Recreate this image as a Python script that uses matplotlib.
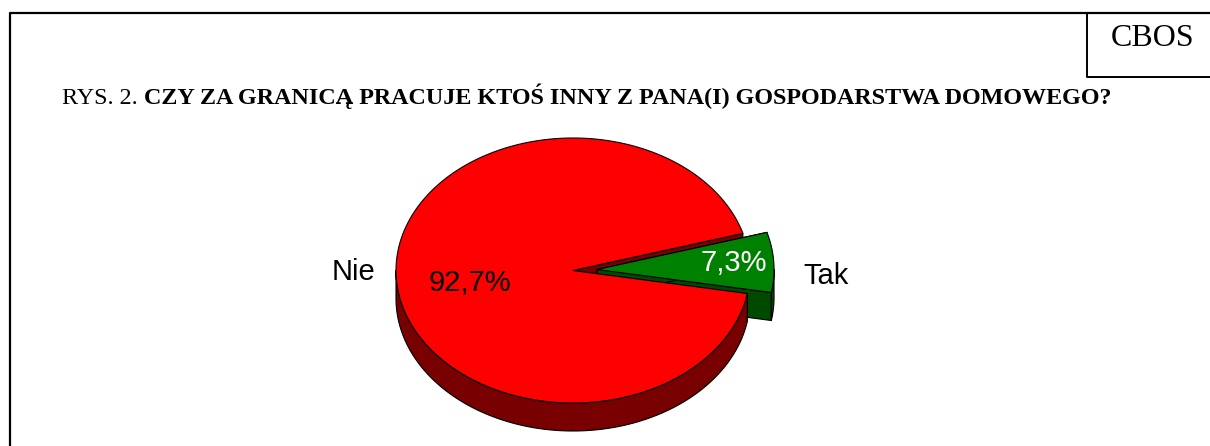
"""
CBOS figure 2: 3D-style pie, who else works abroad.
"""

import numpy as np
import matplotlib.pyplot as plt
from matplotlib.patches import Polygon

# data
labels = ['Tak', 'Nie']
values = [7.3, 92.7]
value_labels = ['7,3%', '92,7%']
top_colors = ['#008000', '#ff0000']
side_colors = ['#004a00', '#780000']
pct_colors = ['white', 'black']

title_plain = 'RYS. 2. '
title_bold = 'CZY ZA GRANICĄ PRACUJE KTOŚ INNY Z PANA(I) GOSPODARSTWA DOMOWEGO?'

# pie geometry (pixels)
cx, cy = 573, 270.5
rx, ry = 177, 132.5
depth = 28
start = -10.0
explode = [0.136, 0.0]


def pt(x0, y0, t):
    t = np.radians(t)
    return np.column_stack([x0 + rx * np.cos(t), y0 - ry * np.sin(t)])


def front_range(a, b):
    # part of [a, b] that lies on the near half (180..360 mod 360)
    out = []
    for k in (-360, 0, 360):
        lo, hi = max(a, 180 + k), min(b, 360 + k)
        if hi > lo:
            out.append((lo, hi))
    return out


fig = plt.figure(figsize=(12.1, 4.46), dpi=100)
ax = fig.add_axes([0, 0, 1, 1])
ax.set_xlim(0, 1210)
ax.set_ylim(446, 0)
ax.axis('off')

fracs = np.array(values) / sum(values) * 360
angles = start + np.concatenate([[0], np.cumsum(fracs)])
kw = dict(edgecolor='black', linewidth=0.8, joinstyle='round')
slices = []
for i in range(len(values)):
    a, b = angles[i], angles[i + 1]
    mid = np.radians((a + b) / 2)
    x0 = cx + explode[i] * rx * np.cos(mid)
    y0 = cy - explode[i] * ry * np.sin(mid)
    slices.append((a, b, x0, y0))


def draw_faces(i):
    a, b, x0, y0 = slices[i]
    for t in (a, b):
        r = pt(x0, y0, t)[0]
        face = [(x0, y0), tuple(r), (r[0], r[1] + depth), (x0, y0 + depth)]
        ax.add_patch(Polygon(face, closed=True, facecolor=side_colors[i], **kw))


def draw_wall(i):
    a, b, x0, y0 = slices[i]
    for lo, hi in front_range(a, b):
        ts = np.linspace(lo, hi, 120)
        upper = pt(x0, y0, ts)
        lower = upper[::-1] + [0, depth]
        ax.add_patch(Polygon(np.vstack([upper, lower]), closed=True,
                             facecolor=side_colors[i], **kw))


def draw_top(i):
    a, b, x0, y0 = slices[i]
    ts = np.linspace(a, b, 300)
    top = np.vstack([[x0, y0], pt(x0, y0, ts)])
    ax.add_patch(Polygon(top, closed=True, facecolor=top_colors[i], **kw))


# back to front: red cut faces, whole green slice, then red wall and top
draw_faces(1)
draw_faces(0)
draw_wall(0)
draw_top(0)
draw_wall(1)
draw_top(1)

# labels
font = 'Liberation Sans'
ax.text(734, 263, value_labels[0], color=pct_colors[0], fontsize=21,
        family=font, ha='center', va='center')
ax.text(470, 283, value_labels[1], color=pct_colors[1], fontsize=21,
        family=font, ha='center', va='center')
ax.text(826, 276, labels[0], fontsize=21, family=font, ha='center', va='center')
ax.text(354, 272, labels[1], fontsize=21, family=font, ha='center', va='center')

# title
t1 = ax.text(62, 104, title_plain, fontsize=17.4, family='Liberation Serif',
             va='baseline', ha='left')
ax.annotate(title_bold, xy=(1, 0), xycoords=t1, fontsize=17.4,
            family='Liberation Serif', fontweight='bold', va='bottom', ha='left')

# frame + CBOS box
ax.plot([9.5, 9.5, 1210], [446, 12.5, 12.5], color='black', lw=1.6,
        solid_capstyle='projecting')
ax.plot([1087, 1087, 1210], [12.5, 77, 77], color='black', lw=1.4)
ax.text(1153, 38, 'CBOS', fontsize=23, family='Liberation Serif',
        ha='center', va='center')

plt.savefig('out.png', dpi=100)
